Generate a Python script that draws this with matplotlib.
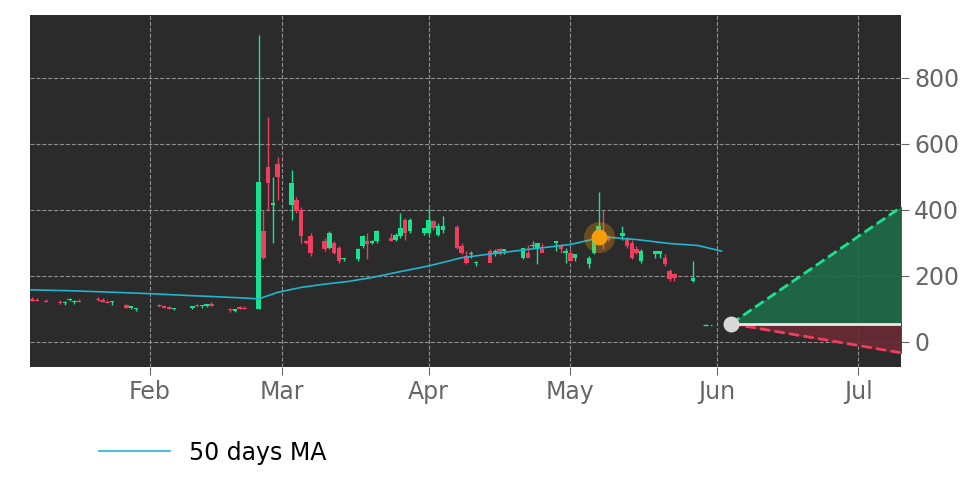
import matplotlib
matplotlib.use("Agg")
import matplotlib.pyplot as plt
import matplotlib.dates as mdates
import numpy as np
import datetime as dt

dates = ["2025-01-07","2025-01-08","2025-01-10","2025-01-13","2025-01-14","2025-01-15","2025-01-16","2025-01-17",
         "2025-01-21","2025-01-22","2025-01-23","2025-01-24","2025-01-27","2025-01-28","2025-01-29",
         "2025-02-03","2025-02-04","2025-02-05","2025-02-06","2025-02-10","2025-02-11","2025-02-12","2025-02-13",
         "2025-02-14","2025-02-18","2025-02-19","2025-02-20","2025-02-21",
         "2025-02-24","2025-02-25","2025-02-26","2025-02-27","2025-02-28",
         "2025-03-03","2025-03-04","2025-03-05","2025-03-06","2025-03-07","2025-03-10","2025-03-11","2025-03-12",
         "2025-03-13","2025-03-14","2025-03-17","2025-03-18","2025-03-19","2025-03-20","2025-03-21",
         "2025-03-24","2025-03-25","2025-03-26","2025-03-27","2025-03-28",
         "2025-03-31","2025-04-01","2025-04-02","2025-04-03","2025-04-04",
         "2025-04-07","2025-04-08","2025-04-09","2025-04-10","2025-04-11",
         "2025-04-14","2025-04-15","2025-04-16","2025-04-17","2025-04-21","2025-04-22","2025-04-23","2025-04-24","2025-04-25",
         "2025-04-28","2025-04-29","2025-04-30","2025-05-01","2025-05-02",
         "2025-05-05","2025-05-06","2025-05-07","2025-05-08","2025-05-09",
         "2025-05-12","2025-05-13","2025-05-14","2025-05-15","2025-05-16",
         "2025-05-19","2025-05-20","2025-05-21","2025-05-22","2025-05-23","2025-05-27","2025-05-28"]
opens  = [130,128,125,120,118,128,120,125,130,126,122,120,112,104,100,112,108,105,100,104,110,108,110,
          115,98,95,105,104,100,335,530,415,540,415,430,400,305,320,305,285,300,285,250,250,290,305,300,305,
          315,310,320,370,335,330,330,365,325,340,348,290,260,265,240,275,270,280,275,255,270,290,285,280,
          300,290,270,270,255,235,270,320,330,320,320,315,300,280,245,265,265,255,215,205,185]
highs  = [135,133,130,127,125,132,126,130,135,132,128,124,116,110,104,116,112,110,104,108,114,112,114,
          120,102,100,110,108,930,400,680,500,560,520,440,410,310,330,315,335,305,290,255,285,325,330,310,340,
          330,330,390,375,375,345,405,370,360,380,355,300,275,275,245,280,280,285,280,270,292,305,290,300,
          305,295,285,280,262,260,320,455,400,325,350,318,310,290,280,275,275,265,220,210,245]
lows   = [125,123,120,115,113,124,116,120,125,121,118,113,102,100,95,106,104,100,96,100,106,102,106,
          108,92,90,100,99,100,250,400,300,430,370,390,300,295,260,275,280,265,240,245,245,285,250,295,300,
          305,305,315,310,330,325,325,340,320,330,280,265,235,255,230,260,260,262,265,250,265,285,235,275,
          275,270,240,255,245,225,265,310,280,305,310,285,250,265,240,255,255,230,185,185,180]
closes = [125,124,122,118,122,130,124,122,126,122,118,122,104,110,102,108,104,100,104,108,108,112,114,
          108,96,100,100,101,485,255,480,420,500,480,395,320,300,270,280,330,270,245,252,280,320,295,305,335,
          305,325,345,330,370,345,370,345,350,350,285,270,240,270,243,240,275,265,280,285,255,290,300,270,
          305,280,275,245,265,255,310,350,300,310,330,290,255,270,275,275,275,235,190,195,195]

ma_dates = ["2025-01-06","2025-01-15","2025-01-25","2025-02-01","2025-02-10","2025-02-21","2025-02-24","2025-02-28",
            "2025-03-05","2025-03-10","2025-03-15","2025-03-20","2025-03-25","2025-04-01","2025-04-08",
            "2025-04-15","2025-04-22","2025-05-01","2025-05-08","2025-05-15","2025-05-22","2025-05-28","2025-06-02"]
ma_vals = [158,155,150,146,140,133,130,150,165,175,183,195,210,230,255,268,280,295,318,310,298,292,275]

last_date, last_val = "2025-06-04", 55
dash_dates, dash_vals = ["2025-05-29","2025-05-31"], [52,52]
proj_end = "2025-07-10"
proj_high, proj_low = 408, -33
marker_date, marker_val = "2025-05-07", 318

d = mdates.datestr2num
fig = plt.figure(figsize=(9.72,4.86), dpi=100, facecolor="white")
ax = fig.add_axes([30/972, 1-367/486, 871/972, 352/486])
ax.set_facecolor("#2b2b2b")
up, dn = "#17e28f", "#f03e5e"
for ds,o,h,l,c in zip(dates,opens,highs,lows,closes):
    x = d(ds); col = up if c>=o else dn
    ax.vlines(x, l, h, color=col, lw=1, zorder=3)
    ax.bar(x, max(abs(c-o),3), bottom=min(o,c), width=0.95, color=col, zorder=3)
ax.plot([d(s) for s in ma_dates], ma_vals, color="#1fb5d1", lw=1.2, zorder=4, label="50 days MA")
ax.plot([d(s) for s in dash_dates], dash_vals, color=up, lw=1, ls="--", zorder=3)
x0, x1 = d(last_date), d(proj_end)
ax.fill_between([x0,x1],[last_val,last_val],[last_val,proj_high], color="#1f6b4a", alpha=0.9, zorder=2)
ax.fill_between([x0,x1],[last_val,last_val],[last_val,proj_low], color="#6b2a36", alpha=0.9, zorder=2)
ax.plot([x0,x1],[last_val,proj_high], color=up, ls="--", lw=2, zorder=4)
ax.plot([x0,x1],[last_val,proj_low], color=dn, ls="--", lw=2, zorder=4)
ax.plot([x0,x1],[last_val,last_val], color="#e8e8e8", lw=2, zorder=4)
ax.scatter([x0],[last_val], s=110, color="#d8d8d8", zorder=5)
ax.scatter([d(marker_date)],[marker_val], s=500, color="#f59e0b", alpha=0.3, zorder=5, lw=0)
ax.scatter([d(marker_date)],[marker_val], s=130, color="#f59e0b", zorder=6, lw=0)

ax.set_xlim(d("2025-01-06")+0.6, x1)
ax.set_ylim(-76, 990)
ax.yaxis.tick_right()
ax.set_yticks([0,200,400,600,800])
ax.xaxis.set_major_locator(mdates.MonthLocator(bymonth=[2,3,4,5,6,7]))
ax.xaxis.set_major_formatter(mdates.DateFormatter("%b"))
ax.tick_params(colors="#666666", labelsize=17, length=6)
ax.grid(True, color="#aaaaaa", ls="--", lw=0.8, alpha=0.8)
for s in ax.spines.values(): s.set_visible(False)
fig.legend(handles=ax.get_lines()[:1], labels=["50 days MA"], loc="lower left",
           bbox_to_anchor=(0.08,0.0), frameon=False, fontsize=17, handlelength=3)
fig.savefig("out.png", dpi=100)
